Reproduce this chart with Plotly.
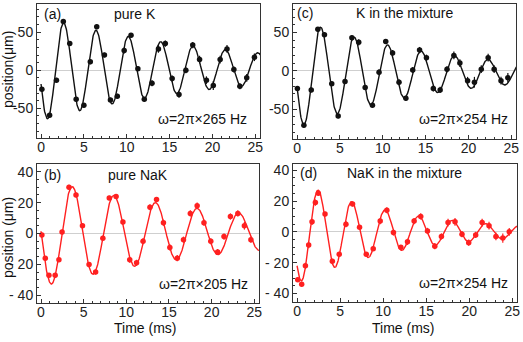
import numpy as np
import plotly.graph_objects as go

# ---------------- data ----------------
# (a) pure K
t_a = [0.1, 1.0, 1.8, 2.6, 3.35, 4.1, 5.0, 5.75, 6.5, 7.4, 8.1, 8.9, 9.7, 10.5, 11.3, 12.05,
       12.95, 13.7, 14.5, 15.3, 16.1, 16.9, 17.7, 18.5, 19.3, 20.1, 20.9, 21.7, 22.5, 23.2, 24.0, 24.9]
y_a = [-25, -59, -13, 64, 35, -38, -46, 11, 57, 20, -39, -34, 26, 46, 2, -38,
       -17, 28, 35, -11, -32, 0, 33, 14, -13, -20, 14, 28, 1, -21, -10, 17]
e_a = [3, 3, 3, 3, 3, 3, 3, 3, 3, 3, 3, 3, 4, 3, 3, 3,
       4, 5, 4, 4, 4, 4, 4, 5, 5, 6, 5, 5, 4, 4, 5, 5]

# (c) K in the mixture
t_c = [0.04, 0.8, 1.66, 2.43, 3.2, 4.05, 4.8, 5.6, 6.4, 7.2, 7.95, 8.8, 9.57, 10.35, 11.15, 11.9,
       12.7, 13.5, 14.3, 15.1, 15.9, 16.7, 17.5, 18.3, 19.0, 19.9, 20.7, 21.5, 22.3, 23.0, 23.8, 24.6]
y_c = [-23, -71, -25, 54, 47, -17, -59, -14, 43, 37, -22, -45, -2, 38, 23, -15,
       -36, 1, 27, 17, -23, -25, 2, 20, 10, -13, -15, 2, 17, 2, -13, -9]
e_c = [3, 3, 3, 3, 3, 3, 3, 3, 3, 4, 3, 3, 4, 3, 4, 4,
       3, 4, 4, 4, 4, 4, 4, 5, 5, 5, 7, 5, 5, 5, 5, 6]

# (b) pure NaK
t_b = [0.1, 0.5, 0.93, 1.66, 2.1, 2.47, 3.28, 4.1, 4.86, 5.63, 6.4, 7.25, 8.0, 8.8, 9.6, 10.4, 11.2,
       11.96, 12.77, 13.54, 14.35, 15.1, 15.97, 16.7, 17.5, 18.3, 19.1, 19.9, 20.7, 21.45, 22.2, 23.07,
       23.84, 24.6]
y_b = [-1, -16, -27, -27, -17, 1, 30, 25, 5, -20, -25, -3, 23, 24, 7.5, -17, -19,
       -5, 17, 22, 7, -9, -16, -4, 13, 18, 7, -5, -12, -2, 11, 13,
       5, -4]
e_b = [1.5, 1.5, 1.5, 1.5, 1.5, 1.5, 1.5, 1.5, 1.5, 1.5, 1.5, 1.5, 1.5, 1.5, 1.5, 2, 2,
       2, 2, 1.5, 2, 2, 2, 2, 2, 2, 2, 2, 2, 2, 2, 2,
       2.5, 2]

# (d) NaK in the mixture
t_d = [0.08, 0.54, 0.97, 1.35, 1.74, 2.13, 2.47, 3.25, 4.1, 4.9, 5.68, 6.45, 7.26, 8.04, 8.85,
       9.66, 10.43, 11.2, 12.06, 12.83, 13.6, 14.37, 15.15, 16.0, 16.77, 17.54, 18.35, 19.16,
       19.94, 20.75, 21.5, 22.3, 23.1, 23.9, 24.65]
y_d = [-31, -34, -22, -8.6, 6.5, 19, 25, 11.5, -19, -14.5, 5, 18, 3, -14.5, -11,
       7, 14, -0.4, -10, -6.5, 7, 10, 0.6, -9.3, -3, 6, 6.5, -1.5,
       -7, -2, 6, 4, -3, -4, 0]
e_d = [1.5, 1.5, 2, 2, 2, 2, 1.5, 1.5, 1.5, 1.5, 2, 1.5, 1.5, 1.5, 1.5,
       2, 2, 2, 1.5, 2, 2, 2, 2, 2, 2, 2.5, 2.5, 2,
       2, 2, 2.5, 2.5, 2.5, 3, 2.5]

# fitted damped-oscillation parameters [amplitude, decay time (ms), frequency (kHz), peak time (ms), offset]
fit_a = [68, 21.5, 0.265, 2.65, 2]
fit_c = [71, 16.0, 0.256, 2.77, -3]
fit_b = [35, 23.0, 0.205, 3.68, 0.5]
fit_d = [33.2, 12.0, 0.257, 2.47, 0]

titles = ["pure K", "K in the mixture", "pure NaK", "NaK in the mixture"]
letters = ["(a)", "(c)", "(b)", "(d)"]
freq_labels = ["ω=2π×265 Hz", "ω=2π×254 Hz", "ω=2π×205 Hz", "ω=2π×254 Hz"]
x_ticks = [0, 5, 10, 15, 20, 25]
y_ticks_top = [-50, 0, 50]
y_ticktext_top = ["-50", "0", "50"]
y_ticks_bot = [-40, -20, 0, 20, 40]
y_ticktext_bot = ["- 40", "- 20", "0", "20", "40"]

# ---------------- figure ----------------
W, H = 523, 342
BLACK = "#111111"
RED = "#ff2020"
FONT = "Liberation Sans, Arial, sans-serif"

fig = go.Figure()

def fitcurve(p):
    A, tau, f, tp, c = p
    t = np.linspace(0, 25.6, 600)
    y = A * np.exp(-t / tau) * np.cos(2 * np.pi * f * (t - tp)) + c
    return t, y

panels = [
    (t_a, y_a, e_a, fit_a, BLACK, "x", "y"),
    (t_c, y_c, e_c, fit_c, BLACK, "x2", "y2"),
    (t_b, y_b, e_b, fit_b, RED, "x3", "y3"),
    (t_d, y_d, e_d, fit_d, RED, "x4", "y4"),
]

for (t, y, e, p, col, xa, ya) in panels:
    tf, yf = fitcurve(p)
    fig.add_trace(go.Scatter(x=tf, y=yf, mode="lines", line=dict(color=col, width=1.4),
                             xaxis=xa, yaxis=ya, hoverinfo="skip", showlegend=False))
    fig.add_trace(go.Scatter(x=t, y=y, mode="markers",
                             marker=dict(color=col, size=5.5, symbol="circle"),
                             error_y=dict(type="data", array=e, color=col, thickness=1.2, width=0),
                             xaxis=xa, yaxis=ya, showlegend=False))

# pixel boxes of the four frames: (left, right, top, bottom)
boxes = [(37, 260, 4, 138), (293, 516, 4, 139), (37, 259, 164, 303), (293, 517, 164, 302)]
yranges = [[-89, 87], [-89, 87], [-45, 45], [-45.5, 44]]

axis_common = dict(showline=True, linecolor="#333333", linewidth=1, mirror=True,
                   ticks="inside", ticklen=4, tickcolor="#333333", showgrid=False,
                   tickfont=dict(family=FONT, size=14, color="#222222"), automargin=False)

for i, (l, r, tp, bt) in enumerate(boxes):
    sfx = "" if i == 0 else str(i + 1)
    xd = [l / W, r / W]
    yd = [1 - bt / H, 1 - tp / H]
    fig.layout["xaxis" + sfx] = dict(axis_common, domain=xd, range=[-0.47, 25.55],
                                     anchor="y" + sfx, tickvals=x_ticks, zeroline=False,
                                     ticklabelstandoff=-4,
                                     minor=dict(ticks="inside", dtick=1, ticklen=2, tickcolor="#333333"))
    if i < 2:
        yt, ytt, mdt = y_ticks_top, y_ticktext_top, 10
    else:
        yt, ytt, mdt = y_ticks_bot, y_ticktext_bot, 5
    fig.layout["yaxis" + sfx] = dict(axis_common, domain=yd, range=yranges[i],
                                     anchor="x" + sfx, tickvals=yt, ticktext=ytt,
                                     zeroline=True, zerolinecolor="#cfcfcf", zerolinewidth=1,
                                     minor=dict(ticks="inside", dtick=mdt, ticklen=2, tickcolor="#333333"))

ann = []
def px_ann(text, x, y, size=14, angle=0, xanchor="center"):
    ann.append(dict(text=text, x=x / W, y=1 - y / H, xref="paper", yref="paper",
                    showarrow=False, xanchor=xanchor, yanchor="middle", textangle=angle,
                    borderpad=0, font=dict(family=FONT, size=size, color="#111111")))

# panel letters, titles, frequency labels
px_ann(letters[0], 43, 14, xanchor="left")
px_ann(titles[0], 135, 14)
px_ann(freq_labels[0], 202, 119)
px_ann(letters[1], 296, 13, xanchor="left")
px_ann(titles[1], 404, 13)
px_ann(freq_labels[1], 463, 119)
px_ann(letters[2], 43, 175, xanchor="left")
px_ann(titles[2], 138, 175)
px_ann(freq_labels[2], 203, 284)
px_ann(letters[3], 299, 173, xanchor="left")
px_ann(titles[3], 404, 173)
px_ann(freq_labels[3], 463, 283)
# axis titles
px_ann("position(μm)", 8, 70, size=14, angle=-90)
px_ann("position (μm)", 8, 238, size=14, angle=-90)
px_ann("Time (ms)", 145, 328, size=14)
px_ann("Time (ms)", 403, 328, size=14)

fig.update_layout(width=W, height=H, margin=dict(l=0, r=0, t=0, b=0),
                  paper_bgcolor="white", plot_bgcolor="white", annotations=ann,
                  font=dict(family=FONT))

fig.write_html("out.html", config={"displayModeBar": False},
               post_script="document.body.style.margin='0';document.body.style.overflow='hidden';")
